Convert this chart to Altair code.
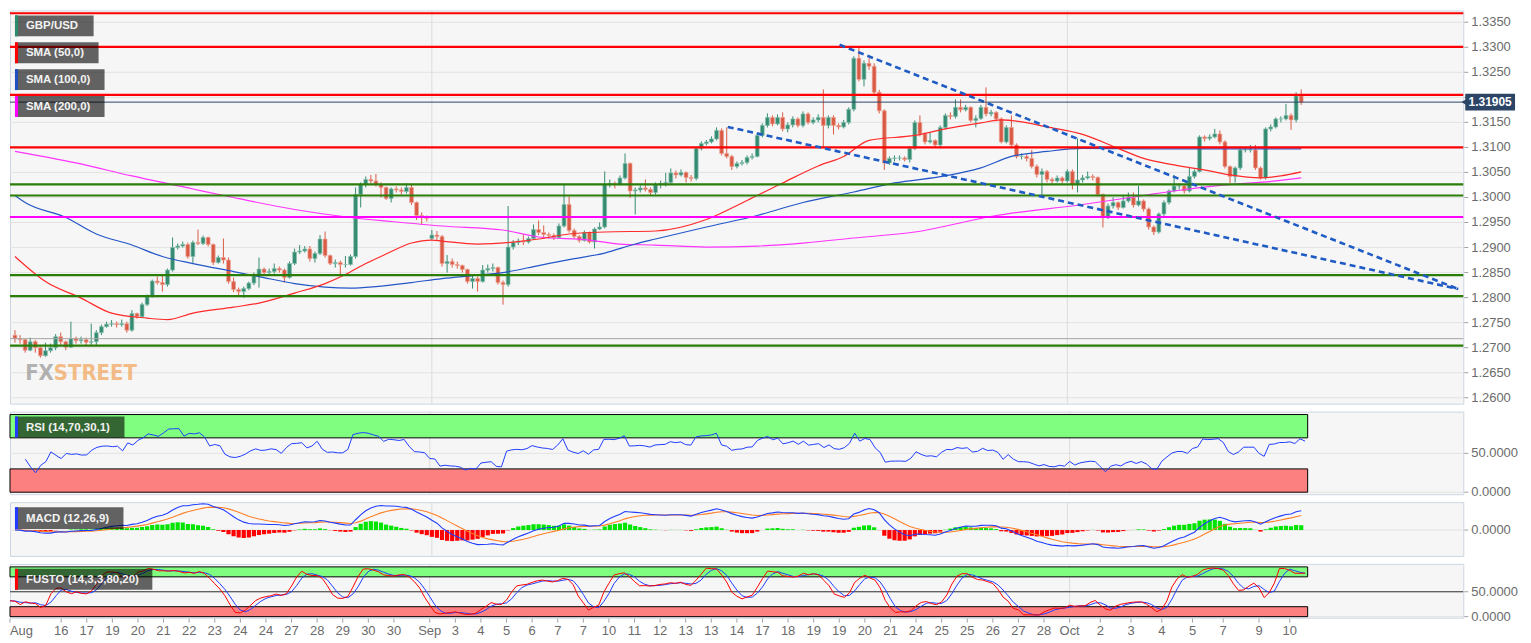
import altair as alt
import numpy as np
import pandas as pd

# ---------------- data ----------------
closes = [
    1.2718, 1.2716, 1.2695, 1.2712, 1.2700, 1.2684, 1.2694, 1.2700, 1.2722, 1.2712,
    1.2701, 1.2718, 1.2714, 1.2716, 1.2711, 1.2712, 1.2730, 1.2742, 1.2747, 1.2748,
    1.2746, 1.2748, 1.2735, 1.2768, 1.2762, 1.2786, 1.2803, 1.2833, 1.2830, 1.2826,
    1.2855, 1.2900, 1.2903, 1.2906, 1.2882, 1.2910, 1.2908, 1.2920, 1.2906, 1.2870,
    1.2880, 1.2875, 1.2832, 1.2816, 1.2812, 1.2818, 1.2829, 1.2846, 1.2857, 1.2850,
    1.2852, 1.2858, 1.2855, 1.2840, 1.2868, 1.2891, 1.2893, 1.2897, 1.2878, 1.2888,
    1.2917, 1.2884, 1.2868, 1.2870, 1.2866, 1.2866, 1.2882, 1.3006, 1.3026, 1.3036,
    1.3033, 1.3026, 1.3020, 1.2998, 1.3017, 1.3015, 1.3012, 1.3020, 1.2990, 1.2964,
    1.2962, 1.2958, 1.2925, 1.2922, 1.2868, 1.2872, 1.2866, 1.2864, 1.2856, 1.2832,
    1.2838, 1.2832, 1.2855, 1.2858, 1.2860, 1.2830, 1.2826, 1.2901, 1.2910, 1.2913,
    1.2911, 1.2918, 1.2936, 1.2930, 1.2926, 1.2924, 1.2920, 1.2943, 1.2986, 1.2934,
    1.2922, 1.2914, 1.2930, 1.2911, 1.2937, 1.2941, 1.3026, 1.3028, 1.3026, 1.3039,
    1.3068, 1.3013, 1.3015, 1.3019, 1.3016, 1.3010, 1.3025, 1.3028, 1.3030, 1.3049,
    1.3045, 1.3050, 1.3040, 1.3038, 1.3098, 1.3108, 1.3111, 1.3117, 1.3134, 1.3088,
    1.3082, 1.3062, 1.3068, 1.3070, 1.3080, 1.3082, 1.3124, 1.3144, 1.3160, 1.3147,
    1.3160, 1.3137, 1.3145, 1.3157, 1.3144, 1.3167, 1.3150, 1.3155, 1.3160, 1.3144,
    1.3160, 1.3144, 1.3141, 1.3150, 1.3176, 1.3278, 1.3236, 1.3268, 1.3262, 1.3210,
    1.3173, 1.3069, 1.3078, 1.3079, 1.3079, 1.3076, 1.3098, 1.3150, 1.3127, 1.3111,
    1.3114, 1.3105, 1.3140, 1.3164, 1.3162, 1.3180, 1.3175, 1.3180, 1.3154, 1.3158,
    1.3180, 1.3167, 1.3170, 1.3157, 1.3111, 1.3140, 1.3105, 1.3082, 1.3082, 1.3078,
    1.3062, 1.3046, 1.3052, 1.3036, 1.3033, 1.3039, 1.3033, 1.3052, 1.3026, 1.3035,
    1.3039, 1.3042, 1.3040, 1.3006, 1.2960, 1.2983, 1.2990, 1.2980, 1.2993, 1.3000,
    1.2985, 1.2993, 1.2977, 1.2941, 1.2931, 1.2967, 1.2990, 1.3013, 1.3023, 1.3023,
    1.3013, 1.3042, 1.3052, 1.3121, 1.3118, 1.3121, 1.3127, 1.3111, 1.3062, 1.3042,
    1.3059, 1.3095, 1.3095, 1.3095, 1.3059, 1.3039, 1.3137, 1.3141, 1.3157, 1.3157,
    1.3164, 1.3155, 1.3203, 1.31905,
]
highs = [
    1.2735, 1.2725, 1.2718, 1.2720, 1.2715, 1.2702, 1.2710, 1.2708, 1.2727, 1.2730,
    1.2714, 1.2752, 1.2722, 1.2722, 1.2720, 1.2748, 1.2735, 1.2746, 1.2752, 1.2755,
    1.2752, 1.2756, 1.2752, 1.2775, 1.2770, 1.2790, 1.2806, 1.2836, 1.2842, 1.2844,
    1.2858, 1.2920, 1.2908, 1.2912, 1.2910, 1.2914, 1.2936, 1.2924, 1.2922, 1.2908,
    1.2884, 1.2918, 1.2880, 1.2840, 1.2820, 1.2822, 1.2832, 1.2850, 1.2880, 1.2860,
    1.2858, 1.2868, 1.2862, 1.2858, 1.2872, 1.2898, 1.2905, 1.2903, 1.2903, 1.2892,
    1.2925, 1.2932, 1.2886, 1.2876, 1.2874, 1.2883, 1.2886, 1.3020, 1.3030, 1.3042,
    1.3045, 1.3047, 1.3030, 1.3022, 1.3020, 1.3022, 1.3020, 1.3028, 1.3025, 1.2992,
    1.2970, 1.2964, 1.2935, 1.2933, 1.2925, 1.2885, 1.2878, 1.2872, 1.2866, 1.2858,
    1.2845, 1.2842, 1.2865, 1.2866, 1.2868, 1.2862, 1.2834, 1.2983, 1.2915, 1.2918,
    1.2926, 1.2922, 1.2946, 1.2954, 1.2944, 1.2930, 1.2928, 1.2948, 1.3026, 1.3002,
    1.2938, 1.2925, 1.2934, 1.2932, 1.2940, 1.2950, 1.3052, 1.3036, 1.3032, 1.3044,
    1.3088, 1.3070, 1.3020, 1.3024, 1.3036, 1.3020, 1.3030, 1.3034, 1.3049, 1.3058,
    1.3054, 1.3056, 1.3052, 1.3045, 1.3100, 1.3112, 1.3115, 1.3122, 1.3140, 1.3138,
    1.3140, 1.3085, 1.3072, 1.3075, 1.3084, 1.3088, 1.3128, 1.3148, 1.3168, 1.3164,
    1.3166, 1.3170, 1.3150, 1.3162, 1.3160, 1.3172, 1.3170, 1.3160, 1.3166, 1.3216,
    1.3164, 1.3164, 1.3148, 1.3155, 1.3180, 1.3282, 1.3300, 1.3274, 1.3278, 1.3268,
    1.3215, 1.3176, 1.3082, 1.3084, 1.3084, 1.3082, 1.3102, 1.3154, 1.3164, 1.3130,
    1.3130, 1.3116, 1.3144, 1.3168, 1.3170, 1.3196, 1.3196, 1.3185, 1.3182, 1.3164,
    1.3185, 1.3220, 1.3175, 1.3172, 1.3160, 1.3144, 1.3164, 1.3108, 1.3088, 1.3086,
    1.3095, 1.3066, 1.3058, 1.3055, 1.3040, 1.3044, 1.3042, 1.3056, 1.3056, 1.3118,
    1.3045, 1.3052, 1.3046, 1.3042, 1.3008, 1.2988, 1.3000, 1.2992, 1.3003, 1.3010,
    1.3010, 1.3023, 1.2996, 1.2980, 1.2944, 1.2970, 1.2994, 1.3016, 1.3045, 1.3028,
    1.3026, 1.3059, 1.3056, 1.3124, 1.3124, 1.3126, 1.3137, 1.3134, 1.3114, 1.3064,
    1.3062, 1.3098, 1.3100, 1.3105, 1.3105, 1.3062, 1.3140, 1.3146, 1.3160, 1.3162,
    1.3187, 1.3168, 1.3210, 1.3216,
]
lows = [
    1.2710, 1.2708, 1.2690, 1.2693, 1.2690, 1.2680, 1.2682, 1.2690, 1.2695, 1.2705,
    1.2695, 1.2700, 1.2708, 1.2708, 1.2705, 1.2705, 1.2703, 1.2725, 1.2740, 1.2742,
    1.2740, 1.2742, 1.2730, 1.2732, 1.2758, 1.2760, 1.2783, 1.2800, 1.2826, 1.2812,
    1.2822, 1.2852, 1.2896, 1.2900, 1.2878, 1.2868, 1.2905, 1.2905, 1.2902, 1.2865,
    1.2868, 1.2868, 1.2828, 1.2811, 1.2805, 1.2800, 1.2815, 1.2825, 1.2820, 1.2845,
    1.2846, 1.2848, 1.2850, 1.2830, 1.2838, 1.2865, 1.2887, 1.2890, 1.2872, 1.2870,
    1.2885, 1.2880, 1.2865, 1.2860, 1.2845, 1.2860, 1.2864, 1.2878, 1.2980, 1.3020,
    1.3028, 1.3022, 1.3000, 1.2995, 1.2990, 1.3010, 1.3006, 1.3008, 1.2985, 1.2955,
    1.2945, 1.2952, 1.2915, 1.2915, 1.2862, 1.2850, 1.2860, 1.2858, 1.2850, 1.2828,
    1.2818, 1.2812, 1.2830, 1.2850, 1.2852, 1.2826, 1.2786, 1.2822, 1.2896, 1.2905,
    1.2905, 1.2908, 1.2915, 1.2925, 1.2920, 1.2918, 1.2915, 1.2918, 1.2940, 1.2930,
    1.2918, 1.2910, 1.2912, 1.2908, 1.2898, 1.2935, 1.2938, 1.3020, 1.3018, 1.3024,
    1.3036, 1.2999, 1.2966, 1.3010, 1.3012, 1.3005, 1.3006, 1.3018, 1.3022, 1.3026,
    1.3038, 1.3042, 1.3030, 1.3032, 1.3034, 1.3094, 1.3104, 1.3108, 1.3114, 1.3084,
    1.3078, 1.3055, 1.3058, 1.3064, 1.3066, 1.3076, 1.3080, 1.3120, 1.3140, 1.3142,
    1.3144, 1.3132, 1.3130, 1.3140, 1.3140, 1.3140, 1.3146, 1.3146, 1.3150, 1.3100,
    1.3138, 1.3126, 1.3136, 1.3138, 1.3146, 1.3172, 1.3232, 1.3222, 1.3255, 1.3205,
    1.3168, 1.3055, 1.3065, 1.3072, 1.3074, 1.3072, 1.3070, 1.3095, 1.3122, 1.3106,
    1.3108, 1.3100, 1.3098, 1.3136, 1.3156, 1.3158, 1.3170, 1.3172, 1.3150, 1.3140,
    1.3155, 1.3162, 1.3162, 1.3152, 1.3108, 1.3108, 1.3100, 1.3078, 1.3076, 1.3072,
    1.3058, 1.3040, 1.3003, 1.3030, 1.3028, 1.3030, 1.3028, 1.3030, 1.3016, 1.3010,
    1.3030, 1.3036, 1.3034, 1.3002, 1.2940, 1.2957, 1.2978, 1.2975, 1.2978, 1.2990,
    1.2980, 1.2982, 1.2972, 1.2936, 1.2925, 1.2928, 1.2962, 1.2986, 1.3010, 1.3016,
    1.3008, 1.3010, 1.3038, 1.3050, 1.3112, 1.3114, 1.3118, 1.3106, 1.3058, 1.3029,
    1.3030, 1.3055, 1.3090, 1.3090, 1.3055, 1.3036, 1.3036, 1.3132, 1.3138, 1.3150,
    1.3154, 1.3135, 1.3150, 1.3185,
]
first_open = 1.2725
gap_open_idx = [82]
gap_open_val = [1.2918]

red_levels = [1.3368, 1.3301, 1.3205, 1.3100]
green_levels = [1.3026, 1.3004, 1.2845, 1.2803, 1.2704]
magenta_levels = [1.2961]
gray_levels = [1.2718]
last_price = 1.31905
last_price_text = "1.31905"

trend_id = ["a", "a", "b", "b"]
trend_i = [162.2, 283.9, 140.2, 283.9]
trend_p = [1.3305, 1.2817, 1.3141, 1.2817]

sma50_i = [0, 6, 13, 19, 26, 30, 35, 43, 48, 55, 61, 65, 69, 73, 78, 82, 84, 91, 98, 103,
           109, 116, 126, 136, 144, 151, 158, 163, 168, 177, 183, 190, 194, 198, 203, 210,
           217, 222, 228, 235, 239, 245, 249, 253]
sma50_v = [1.2882, 1.2832, 1.2799, 1.2769, 1.2759, 1.2756, 1.2769, 1.2781, 1.2789, 1.2809,
           1.2828, 1.2846, 1.2868, 1.2887, 1.2909, 1.2915, 1.2913, 1.2907, 1.2911, 1.2917,
           1.2927, 1.2931, 1.2933, 1.2956, 1.2994, 1.3029, 1.3063, 1.3082, 1.3114, 1.3124,
           1.3137, 1.3149, 1.3155, 1.3151, 1.3141, 1.3126, 1.3098, 1.3078, 1.3065, 1.3053,
           1.3045, 1.3039, 1.3043, 1.3051]
sma100_i = [0, 2, 10, 16, 23, 29, 35, 43, 48, 55, 61, 66, 71, 78, 84, 90, 96, 103, 109, 116,
            122, 126, 136, 146, 155, 165, 173, 183, 190, 196, 203, 210, 223, 239, 253]
sma100_v = [1.3004, 1.2990, 1.2960, 1.2927, 1.2905, 1.2882, 1.2868, 1.2852, 1.2842, 1.2828,
            1.2821, 1.2819, 1.2822, 1.2830, 1.2838, 1.2844, 1.2850, 1.2864, 1.2876, 1.2889,
            1.2907, 1.2917, 1.2941, 1.2964, 1.2990, 1.3011, 1.3029, 1.3043, 1.3059, 1.3082,
            1.3092, 1.3098, 1.3097, 1.3097, 1.3097]
sma200_i = [0, 12, 23, 35, 42, 55, 66, 74, 84, 96, 103, 113, 119, 126, 136, 146, 155, 165,
            177, 193, 210, 222, 228, 238, 248, 253]
sma200_v = [1.3092, 1.3069, 1.3043, 1.3017, 1.3002, 1.2976, 1.2960, 1.2952, 1.2943, 1.2935,
            1.2921, 1.2915, 1.2907, 1.2905, 1.2901, 1.2903, 1.2909, 1.2919, 1.2931, 1.2964,
            1.2986, 1.3004, 1.3013, 1.3025, 1.3033, 1.3039]

month_i = [82, 207]
tick_idx = [0, 10, 15, 20, 25, 30, 35, 40, 45, 50, 55, 60, 65, 70, 75,
            82, 87, 92, 97, 102, 107, 112, 117, 122, 127, 132, 137, 142,
            147, 152, 157, 162, 167, 172, 177, 182, 187, 192, 197, 202,
            207, 213, 219, 225, 231, 237, 244, 250]
tick_lbl = ["Aug", "16", "17", "19", "20", "21", "22", "23", "24", "24", "27", "28", "29", "30", "30",
            "Sep", "3", "4", "5", "6", "7", "7", "10", "11", "12", "13", "13", "14",
            "17", "18", "19", "19", "20", "21", "24", "25", "25", "26", "27", "28",
            "Oct", "2", "3", "4", "5", "7", "9", "10"]
price_ticks = [1.2600, 1.2650, 1.2700, 1.2750, 1.2800, 1.2850, 1.2900, 1.2950,
               1.3000, 1.3050, 1.3100, 1.3150, 1.3200, 1.3250, 1.3300, 1.3350]
price_ticks_hidden = [1.3200]   # label covered by the last-price tag in the picture
rsi_ticks = [0, 50]
macd_ticks = [0]
sto_ticks = [0, 50]

# ---------------- derived tables ----------------
n = min(len(closes), len(highs), len(lows))
closes, highs, lows = closes[:n], highs[:n], lows[:n]
opens = [first_open] + closes[:-1]
for k, v in zip(gap_open_idx, gap_open_val):
    opens[k] = v
df = pd.DataFrame({"i": list(range(n)), "open": opens, "high": highs, "low": lows, "close": closes})
df["dir"] = np.where(df["close"] >= df["open"], "up", "down")

c = np.array(closes)
hh = np.array(highs)
ll = np.array(lows)


def ema(x, span):
    a = 2.0 / (span + 1)
    out = np.empty_like(x)
    out[0] = x[0]
    for k in range(1, len(x)):
        out[k] = a * x[k] + (1 - a) * out[k - 1]
    return out


macd = ema(c, 12) - ema(c, 26)
sig = ema(macd, 9)
hist = macd - sig

d = np.diff(c, prepend=c[0])
gain = np.clip(d, 0, None)
loss = np.clip(-d, 0, None)
ag = np.zeros(n)
al = np.zeros(n)
rsi = np.full(n, np.nan)
for k in range(1, n):
    if k <= 14:
        ag[k] = gain[1:k + 1].mean()
        al[k] = loss[1:k + 1].mean()
    else:
        ag[k] = (ag[k - 1] * 13 + gain[k]) / 14
        al[k] = (al[k - 1] * 13 + loss[k]) / 14
    if k >= 3:
        rsi[k] = 100.0 if al[k] == 0 else 100 - 100 / (1 + ag[k] / al[k])

raw = np.zeros(n)
for k in range(n):
    lo_ = ll[max(0, k - 13):k + 1].min()
    hi_ = hh[max(0, k - 13):k + 1].max()
    raw[k] = 50.0 if hi_ == lo_ else 100 * (c[k] - lo_) / (hi_ - lo_)
kline = np.array([raw[max(0, k - 2):k + 1].mean() for k in range(n)])
dline = np.array([kline[max(0, k - 2):k + 1].mean() for k in range(n)])

ind = pd.DataFrame({"i": list(range(n)), "rsi": rsi, "macd": macd, "sig": sig, "hist": hist,
                    "zero": 0.0, "k": kline, "d": dline})
rsi_df = ind.dropna(subset=["rsi"])
pos_df = ind[ind["hist"] >= 0]
neg_df = ind[ind["hist"] < 0]

# ---------------- styling ----------------
W = 1460
H_MAIN, H_RSI, H_MACD, H_STO = 395, 83, 54, 54
FONT = "Liberation Sans"
LBL = "#6b6b6b"
GRID = "#e2e2e2"
GREEN, GREEN_EDGE = "#358b71", "#86bfae"
RED, RED_EDGE = "#d95b45", "#eea293"
IND_BLUE = "#1f3cff"
NAVY = "#2c4566"

xs = alt.Scale(domain=[0, 283.9], nice=False, zero=False)
X = alt.X("i:Q", scale=xs, axis=None)
last_x = n - 1 + 0.5


def tag(text, stripe, x1, x2, y1, y2):
    t = pd.DataFrame({"t": [text]})
    box = alt.Chart(t).mark_rect(color="#000000", opacity=0.6).encode(
        x=alt.value(x1), x2=alt.value(x2), y=alt.value(y1), y2=alt.value(y2))
    bar = alt.Chart(t).mark_rect(color=stripe, opacity=1).encode(
        x=alt.value(x1), x2=alt.value(x1 + 3), y=alt.value(y1), y2=alt.value(y2))
    txt = alt.Chart(t).mark_text(align="left", baseline="middle", color="#f2f2f2", fontSize=11.5,
                                 fontWeight="bold", font=FONT).encode(
        x=alt.value(x1 + 11), y=alt.value((y1 + y2) / 2 + 0.5), text="t:N")
    return [box, bar, txt]


def month_rules():
    return alt.Chart(pd.DataFrame({"i": month_i})).mark_rule(color="#dcdcdc", strokeWidth=1).encode(x=X)


def right_axis(values, scale, hidden=()):
    t = pd.DataFrame({"v": values, "lbl": ["%.4f" % v for v in values]})
    t_lbl = t[~t["v"].isin(list(hidden))]
    Y = alt.Y("v:Q", scale=scale, axis=None)
    return [
        alt.Chart(t).mark_rule(color=GRID, strokeWidth=1).encode(y=Y),
        alt.Chart(t).mark_rule(color="#a0a0a0", strokeWidth=1).encode(
            x=alt.value(W + 1), x2=alt.value(W + 5), y=Y),
        alt.Chart(t_lbl).mark_text(align="left", baseline="middle", fontSize=13, font=FONT,
                                   color=LBL).encode(x=alt.value(W + 8), y=Y, text="lbl:N"),
    ]


# ---------------- main panel ----------------
ys = alt.Scale(domain=[1.25882, 1.33736], nice=False, zero=False)
cdir = alt.Color("dir:N", scale=alt.Scale(domain=["up", "down"], range=[GREEN, RED]), legend=None)
cedge = alt.Stroke("dir:N", scale=alt.Scale(domain=["up", "down"], range=[GREEN_EDGE, RED_EDGE]), legend=None)

wicks = alt.Chart(df).mark_rule(strokeWidth=1, clip=True).encode(
    x=X, y=alt.Y("low:Q", scale=ys, axis=None), y2="high:Q", color=cdir)
bodies = alt.Chart(df).mark_bar(size=3.8, clip=True, strokeWidth=0.7).encode(
    x=X, y=alt.Y("open:Q", scale=ys, axis=None), y2="close:Q", color=cdir, stroke=cedge)


def hlines(vals, color, width):
    return alt.Chart(pd.DataFrame({"p": vals})).mark_rule(color=color, strokeWidth=width).encode(
        y=alt.Y("p:Q", scale=ys, axis=None))


def sma_line(ii, vv, color):
    return alt.Chart(pd.DataFrame({"i": ii, "p": vv})).mark_line(
        color=color, strokeWidth=1.2, interpolate="monotone", clip=True).encode(
        x=X, y=alt.Y("p:Q", scale=ys, axis=None))


trend = alt.Chart(pd.DataFrame({"id": trend_id, "i": trend_i, "p": trend_p})).mark_line(
    color="#1f5bc4", strokeWidth=2.6, strokeDash=[6, 4], clip=True).encode(
    x=X, y=alt.Y("p:Q", scale=ys, axis=None), detail="id:N")

lp = pd.DataFrame({"p": [last_price], "t": [last_price_text]})
lp_line = alt.Chart(lp).mark_rule(color=NAVY, strokeWidth=1).encode(y=alt.Y("p:Q", scale=ys, axis=None))
lp_box = alt.Chart(lp).mark_tick(orient="horizontal", size=50, thickness=17, color=NAVY, opacity=1).encode(
    x=alt.value(1487), y=alt.Y("p:Q", scale=ys, axis=None))
lp_arrow = alt.Chart(lp).mark_point(shape="triangle-left", filled=True, size=45, color=NAVY, opacity=1).encode(
    x=alt.value(1461), y=alt.Y("p:Q", scale=ys, axis=None))
lp_text = alt.Chart(lp).mark_text(color="white", fontWeight="bold", fontSize=12, font=FONT,
                                  baseline="middle").encode(
    x=alt.value(1487), y=alt.Y("p:Q", scale=ys, axis=None), text="t:N")

logo_df = pd.DataFrame({"a": ["FX"], "b": ["STREET"]})
LOGO_FONT = "DejaVu Sans Condensed, Liberation Sans Narrow, Liberation Sans"
logo_fx = alt.Chart(logo_df).mark_text(align="right", baseline="middle", fontSize=22, fontWeight="bold",
                                       font=LOGO_FONT, color="#9a9a9a", opacity=0.75).encode(
    x=alt.value(44), y=alt.value(364), text="a:N")
logo_st = alt.Chart(logo_df).mark_text(align="left", baseline="middle", fontSize=22, fontWeight="bold",
                                       font=LOGO_FONT, color="#f2a860", opacity=0.75).encode(
    x=alt.value(44), y=alt.value(364), text="b:N")

main_layers = right_axis(price_ticks, ys, price_ticks_hidden) + [
    month_rules(), wicks, bodies,
    sma_line(sma200_i, sma200_v, "#ff33ff"),
    sma_line(sma100_i, sma100_v, "#2456c8"),
    sma_line(sma50_i, sma50_v, "#ff2a2a"),
    hlines(gray_levels, "#a5a5a5", 1),
    hlines(green_levels, "#2a7d06", 2.2),
    hlines(magenta_levels, "#ff00ff", 2.2),
    hlines(red_levels, "#ff0000", 2.2),
    trend, lp_line, logo_fx, logo_st]
main_layers += tag("GBP/USD", "#2e8b6e", 5, 84, 5, 26)
main_layers += tag("SMA (50,0)", "#ff0000", 5, 89, 32, 53)
main_layers += tag("SMA (100,0)", "#1f4fc0", 5, 95, 59, 80)
main_layers += tag("SMA (200,0)", "#ff00ff", 5, 95, 86, 107)
main_layers += [lp_box, lp_arrow, lp_text]
main = alt.layer(*main_layers).properties(width=W, height=H_MAIN)


# ---------------- zones helper ----------------
def zone(lo, hi, color, scale):
    z = pd.DataFrame({"x1": [0], "x2": [last_x], "lo": [lo], "hi": [hi]})
    return alt.Chart(z).mark_rect(color=color, stroke="#000000", strokeWidth=1, opacity=1).encode(
        x=alt.X("x1:Q", scale=xs, axis=None), x2="x2:Q",
        y=alt.Y("lo:Q", scale=scale, axis=None), y2="hi:Q")


GZ, RZ = "#80fe80", "#fc8080"

# ---------------- RSI ----------------
ys_rsi = alt.Scale(domain=[-2.6, 103.8], nice=False, zero=False)
rsi_line = alt.Chart(rsi_df).mark_line(color=IND_BLUE, strokeWidth=1, clip=True).encode(
    x=X, y=alt.Y("rsi:Q", scale=ys_rsi, axis=None))
rsi_layers = right_axis(rsi_ticks, ys_rsi) + [month_rules(), zone(70, 100, GZ, ys_rsi),
                                              zone(0, 30, RZ, ys_rsi), rsi_line]
rsi_layers += tag("RSI (14,70,30,1)", "#1f3cff", 5, 115, 5, 26)
rsi_panel = alt.layer(*rsi_layers).properties(width=W, height=H_RSI)

# ---------------- MACD ----------------
mx = float(max(np.max(macd), np.max(sig)))
m_hi = mx * 1.06
m_lo = -m_hi * 26.0 / 28.0
ys_macd = alt.Scale(domain=[m_lo, m_hi], nice=False, zero=False)
hist_pos = alt.Chart(pos_df).mark_bar(size=4.2, clip=True, color="#00e400").encode(
    x=X, y=alt.Y("hist:Q", scale=ys_macd, axis=None), y2="zero:Q")
hist_neg = alt.Chart(neg_df).mark_bar(size=4.2, clip=True, color="#ff0000").encode(
    x=X, y=alt.Y("hist:Q", scale=ys_macd, axis=None), y2="zero:Q")
sig_line = alt.Chart(ind).mark_line(color="#ff7f27", strokeWidth=1.1, clip=True).encode(
    x=X, y=alt.Y("sig:Q", scale=ys_macd, axis=None))
macd_line = alt.Chart(ind).mark_line(color=IND_BLUE, strokeWidth=1.1, clip=True).encode(
    x=X, y=alt.Y("macd:Q", scale=ys_macd, axis=None))
macd_layers = right_axis(macd_ticks, ys_macd) + [month_rules(), hist_pos, hist_neg, sig_line, macd_line]
macd_layers += tag("MACD (12,26,9)", "#1f3cff", 5, 114, 5, 27)
macd_panel = alt.layer(*macd_layers).properties(width=W, height=H_MACD)

# ---------------- FUSTO ----------------
ys_sto = alt.Scale(domain=[-2, 106], nice=False, zero=False)
mid = alt.Chart(pd.DataFrame({"v": [50]})).mark_rule(color="#333333", strokeWidth=1).encode(
    y=alt.Y("v:Q", scale=ys_sto, axis=None))
d_line = alt.Chart(ind).mark_line(color=IND_BLUE, strokeWidth=1, clip=True).encode(
    x=X, y=alt.Y("d:Q", scale=ys_sto, axis=None))
k_line = alt.Chart(ind).mark_line(color="#ff0000", strokeWidth=1, clip=True).encode(
    x=X, y=alt.Y("k:Q", scale=ys_sto, axis=None))

xt = pd.DataFrame({"i": tick_idx, "lbl": tick_lbl})
x_ticks = alt.Chart(xt).mark_rule(color="#a0a0a0", strokeWidth=1).encode(
    x=X, y=alt.value(H_STO + 1), y2=alt.value(H_STO + 5))
x_first = alt.Chart(xt).transform_filter("datum.i == 0").mark_text(
    align="left", baseline="top", fontSize=13, font=FONT, color=LBL).encode(
    x=X, y=alt.value(H_STO + 7), text="lbl:N")
x_rest = alt.Chart(xt).transform_filter("datum.i > 0").mark_text(
    align="center", baseline="top", fontSize=13, font=FONT, color=LBL).encode(
    x=X, y=alt.value(H_STO + 7), text="lbl:N")

sto_layers = right_axis(sto_ticks, ys_sto) + [month_rules(), zone(80, 100, GZ, ys_sto),
                                              zone(0, 20, RZ, ys_sto), mid, d_line, k_line,
                                              x_ticks, x_first, x_rest]
sto_layers += tag("FUSTO (14,3,3,80,20)", "#ff0000", 5, 143, 5, 26)
sto_panel = alt.layer(*sto_layers).properties(width=W, height=H_STO)

chart = alt.vconcat(main, rsi_panel, macd_panel, sto_panel, spacing=8, bounds="flush").resolve_scale(
    color="independent", stroke="independent"
).properties(
    padding={"left": 0, "top": 0, "right": 4, "bottom": 0}
).configure_view(
    fill="#f6f6f6", stroke="#cdd5e3", strokeWidth=1
)

chart.save("out.html", embed_options={"renderer": "svg", "actions": False})
